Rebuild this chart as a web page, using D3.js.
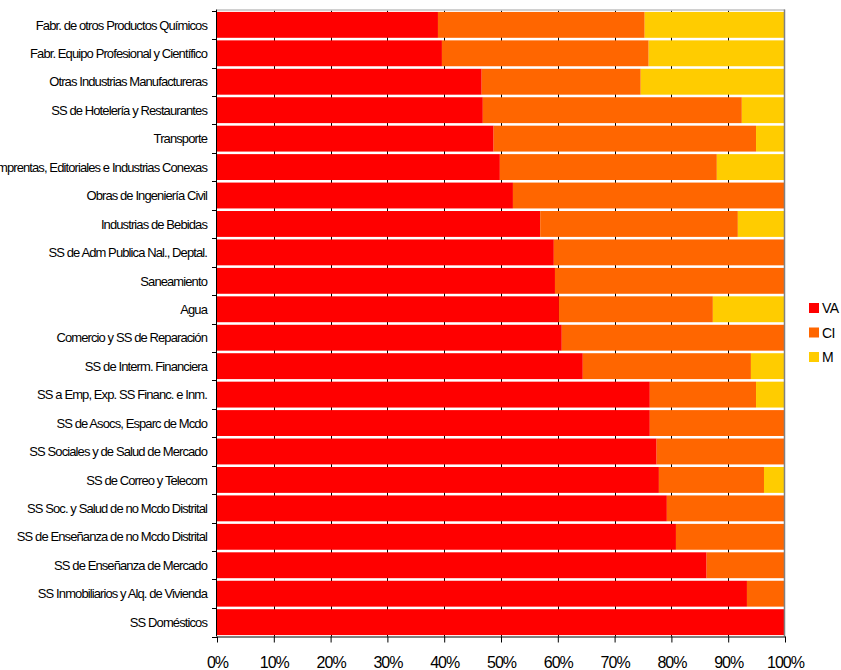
<!DOCTYPE html>
<html>
<head>
<meta charset="utf-8">
<script src="https://cdn.jsdelivr.net/npm/d3@7"></script>
<style>
  html, body { margin: 0; padding: 0; background: #fff; }
  svg { display: block; font-family: "Liberation Sans", Arial, sans-serif; }
</style>
</head>
<body>
<svg id="chart" width="841" height="670"></svg>
<script>
// Sector names, top to bottom
const categories = [
  "Fabr. de otros Productos Químicos",
  "Fabr. Equipo Profesional y Científico",
  "Otras Industrias Manufactureras",
  "SS de Hotelería y Restaurantes",
  "Transporte",
  "Imprentas, Editoriales e Industrias Conexas",
  "Obras de Ingeniería Civil",
  "Industrias de Bebidas",
  "SS de Adm Publica Nal., Deptal.",
  "Saneamiento",
  "Agua",
  "Comercio y SS de Reparación",
  "SS de Interm. Financiera",
  "SS a Emp, Exp. SS Financ. e Inm.",
  "SS de Asocs, Esparc de Mcdo",
  "SS Sociales y de Salud de Mercado",
  "SS de Correo y Telecom",
  "SS Soc. y Salud de no Mcdo Distrital",
  "SS de Enseñanza de no Mcdo Distrital",
  "SS de Enseñanza de Mercado",
  "SS Inmobiliarios y Alq. de Vivienda",
  "SS Domésticos"
];

// Shares of each component (percent of total)
const VA = [38.9, 39.6, 46.6, 46.8, 48.7, 49.8, 52.1, 56.9, 59.3, 59.5, 60.2,
            60.7, 64.4, 76.2, 76.2, 77.4, 77.8, 79.2, 80.8, 86.2, 93.3, 100];
const CI = [36.4, 36.4, 28.0, 45.6, 46.2, 38.2, 47.9, 34.8, 40.7, 40.5, 27.1,
            39.3, 29.6, 18.7, 23.8, 22.6, 18.5, 20.8, 19.2, 13.8, 6.7, 0];
const M  = [24.7, 24.0, 25.4, 7.6, 5.1, 12.0, 0, 8.3, 0, 0, 12.7,
            0, 6.0, 5.1, 0, 0, 3.7, 0, 0, 0, 0, 0];

const seriesNames = ["VA", "CI", "M"];
const seriesColors = ["#ff0000", "#ff6600", "#ffcc00"];
const xTicks = [0, 10, 20, 30, 40, 50, 60, 70, 80, 90, 100];

const rows = categories.map((c, i) => ({ cat: c, VA: VA[i], CI: CI[i], M: M[i] }));
const stack = d3.stack().keys(seriesNames)(rows);

const svg = d3.select("#chart");
const plotLeft = 217, plotRight = 785, plotTop = 10.5, plotBottom = 636.5;

const x = d3.scaleLinear().domain([0, 100]).range([plotLeft, plotRight]);
const y = d3.scaleBand().domain(categories).range([plotTop, plotBottom])
  .paddingInner(0.09).paddingOuter(0.05);
const color = d3.scaleOrdinal().domain(seriesNames).range(seriesColors);

// Vertical gridlines behind the bars
svg.append("g")
  .selectAll("line")
  .data(xTicks.filter(t => t > 0 && t < 100))
  .join("line")
  .attr("x1", d => Math.round(x(d)) + 0.5)
  .attr("x2", d => Math.round(x(d)) + 0.5)
  .attr("y1", plotTop).attr("y2", plotBottom)
  .attr("stroke", "#000").attr("stroke-width", 1);

// Stacked bars
svg.append("g")
  .selectAll("g")
  .data(stack)
  .join("g")
  .attr("fill", d => color(d.key))
  .selectAll("rect")
  .data(d => d)
  .join("rect")
  .attr("x", d => x(d[0]))
  .attr("width", d => Math.max(0, x(d[1]) - x(d[0])))
  .attr("y", d => y(d.data.cat))
  .attr("height", y.bandwidth());

// Plot area border (top and right)
svg.append("line")
  .attr("x1", plotLeft).attr("x2", plotRight)
  .attr("y1", plotTop - 0.5).attr("y2", plotTop - 0.5)
  .attr("stroke", "#c0c0c0").attr("stroke-width", 1.5);
svg.append("line")
  .attr("x1", plotRight - 0.5).attr("x2", plotRight - 0.5)
  .attr("y1", plotTop - 1).attr("y2", plotBottom)
  .attr("stroke", "#808080").attr("stroke-width", 1.5);

// Bottom axis
const xAxis = svg.append("g")
  .attr("transform", `translate(0,${plotBottom})`)
  .call(d3.axisBottom(x).tickValues(xTicks).tickFormat(d => d + "%")
    .tickSize(6).tickPadding(14).tickSizeOuter(0));
xAxis.select(".domain").attr("stroke", "#000");
xAxis.selectAll(".tick line").attr("stroke", "#000");
xAxis.selectAll("text")
  .attr("font-size", 16).attr("fill", "#000")
  .attr("font-family", "'Liberation Sans', Arial, sans-serif")
  .style("letter-spacing", "-1px");

// Left axis: line, ticks at band boundaries, category labels
const yAxis = svg.append("g");
yAxis.append("line")
  .attr("x1", plotLeft - 0.5).attr("x2", plotLeft - 0.5)
  .attr("y1", plotTop - 1).attr("y2", plotBottom)
  .attr("stroke", "#000");
const bounds = categories.map(c => y(c) - y.step() * y.paddingInner() / 2)
  .concat([plotBottom]);
bounds[0] = plotTop;
yAxis.selectAll("line.tk")
  .data(bounds)
  .join("line")
  .attr("class", "tk")
  .attr("x1", plotLeft - 5).attr("x2", plotLeft)
  .attr("y1", d => Math.round(d) + 0.5).attr("y2", d => Math.round(d) + 0.5)
  .attr("stroke", "#000");
yAxis.selectAll("text")
  .data(categories)
  .join("text")
  .attr("x", plotLeft - 10)
  .attr("y", d => y(d) + y.bandwidth() / 2)
  .attr("dy", "0.36em")
  .attr("text-anchor", "end")
  .attr("font-size", 13)
  .attr("fill", "#000")
  .style("letter-spacing", "-0.9px")
  .text(d => d);

// Legend
const legend = svg.append("g")
  .selectAll("g")
  .data(seriesNames)
  .join("g")
  .attr("transform", (d, i) => `translate(809,${303 + i * 24.5})`);
legend.append("rect")
  .attr("width", 10).attr("height", 10)
  .attr("fill", d => color(d));
legend.append("text")
  .attr("x", 13).attr("y", 5).attr("dy", "0.36em")
  .attr("font-size", 14).attr("fill", "#000")
  .style("letter-spacing", "-0.6px")
  .text(d => d);
</script>
</body>
</html>
